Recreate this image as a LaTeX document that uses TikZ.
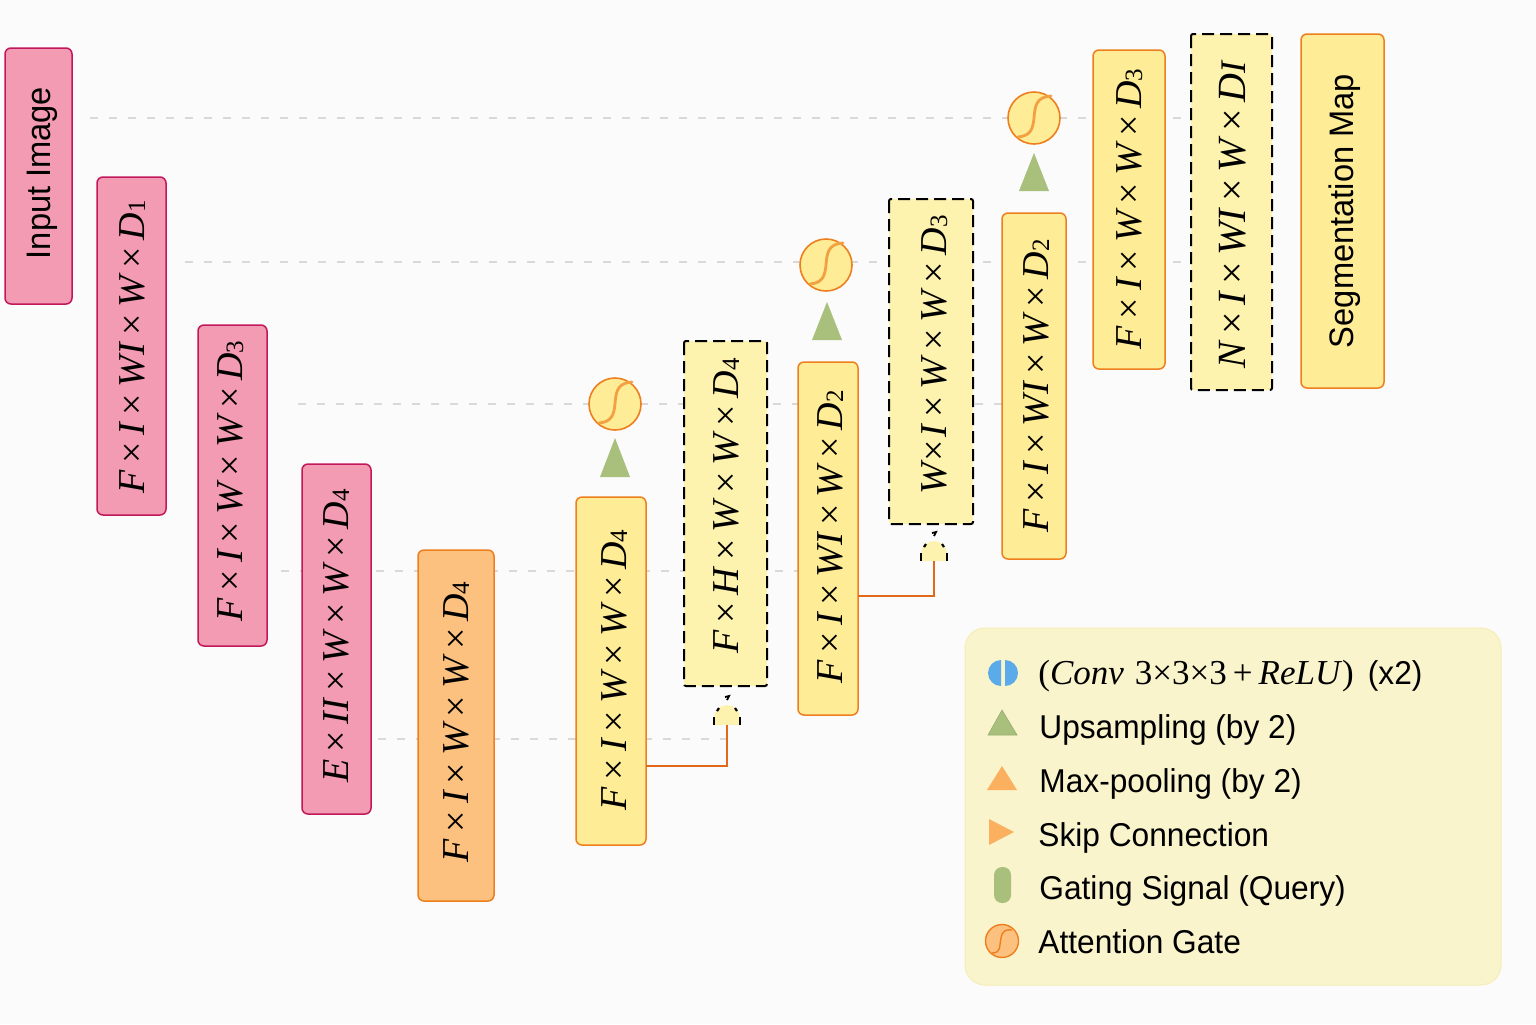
\documentclass[tikz,border=0pt]{standalone}
\usepackage{fontspec}
\setmainfont{Liberation Sans}
\newfontfamily\serifl{Liberation Serif}
\newfontfamily\sansn[FakeStretch=0.96]{Liberation Sans}
\usetikzlibrary{calc}
\definecolor{pinkF}{HTML}{F29BB2}
\definecolor{pinkD}{HTML}{C2185B}
\definecolor{orF}{HTML}{FCC07F}
\definecolor{orD}{HTML}{EE7F1E}
\definecolor{yeF}{HTML}{FFEC96}
\definecolor{yeL}{HTML}{FDF2AE}
\definecolor{legF}{HTML}{FAF4CC}
\definecolor{legD}{HTML}{F4EDB4}
\definecolor{gr}{HTML}{A8C07C}
\definecolor{triO}{HTML}{FBB05F}
\definecolor{blu}{HTML}{5BAAEA}
\definecolor{dashC}{HTML}{D9D9D9}
\definecolor{skipC}{HTML}{E2681A}
\tikzset{
 x=0.5pt,y=-0.5pt,
 blockbox/.style={rectangle,rounded corners=3pt,line width=0.75pt,inner sep=0pt},
 pinkbox/.style={blockbox,draw=pinkD,fill=pinkF},
 orangebox/.style={blockbox,draw=orD,fill=orF},
 yellowbox/.style={blockbox,draw=orD,fill=yeF},
 gatedbox/.style={rectangle,rounded corners=1pt,draw=black,fill=yeL,line width=1pt,dash pattern=on 6pt off 3pt,inner sep=0pt},
 vlabel/.style={rotate=90,anchor=base,font=\serifl\fontsize{19}{20}\selectfont,inner sep=0pt,text=black},
 sidelabel/.style={rotate=90,anchor=base,font=\sansn\fontsize{17}{20}\selectfont,inner sep=0pt,text=black},
 guide/.style={draw=dashC,line width=1.4pt,dash pattern=on 4pt off 5.5pt},
 skipline/.style={draw=skipC,line width=1pt},
 legtext/.style={anchor=base west,font=\sansn\fontsize{16.5}{20}\selectfont,inner sep=0pt,text=black},
 gatecirc/.style={circle,draw=orD,fill=yeF,line width=0.8pt,minimum size=26pt,inner sep=0pt},
 uptri/.style={fill=gr,draw=none},
}
\newcommand{\X}{\hspace{3.5pt}{\upshape ×}\hspace{3.5pt}}
\newcommand{\Y}{\hspace{1pt}{\upshape ×}\hspace{1pt}}
\newcommand{\Sb}[1]{\raisebox{-0.6pt}{\fontsize{12.5}{12}\selectfont\upshape #1}}
\newcommand{\vl}[1]{\itshape #1}
\newcommand{\bx}[6]{% name, style, x1, y1, x2, y2
 \path[#2] (#3,#4) rectangle (#5,#6);
 \coordinate (#1) at ({(#3+#5)/2},{(#4+#6)/2});}
\newcommand{\scurve}[1]{%
 \draw[orD!70!yeF,line width=1.4pt,line cap=round] ($(#1)+(-16,19)$) .. controls ($(#1)+(-3,18)$) and ($(#1)+(-1,10)$) .. ($(#1)+(0,0)$) .. controls ($(#1)+(1,-12)$) and ($(#1)+(2,-21)$) .. ($(#1)+(17,-22)$);}
\newcommand{\stub}[1]{%
 \fill[yeL] ($(#1)+(-13,0)$) -- ($(#1)+(-13,-7)$) arc[start angle=180,end angle=0,x radius=6.5pt,y radius=6.5pt] -- ($(#1)+(13,0)$) -- cycle;
 \draw[black,line width=0.9pt] ($(#1)+(-13,0)$) -- ($(#1)+(-13,-8)$) ($(#1)+(13,0)$) -- ($(#1)+(13,-8)$);
 \draw[black,line width=1.1pt] ($(#1)+(-10,-14)$) -- ($(#1)+(-8,-17)$) ($(#1)+(10,-14)$) -- ($(#1)+(8,-17)$);
 \draw[black,line width=0.9pt] ($(#1)+(-2,-28)$) -- ($(#1)+(2,-29)$) -- ($(#1)+(0,-25)$);}
\begin{document}
\begin{tikzpicture}
\useasboundingbox (0,0) rectangle (1536,1024);
\fill[white!98.5!black] (0,0) rectangle (1536,1024);
% guides
\coordinate (g1a) at (90,118); \coordinate (g1b) at (1185,118);
\coordinate (g2a) at (185,262); \coordinate (g2b) at (1185,262);
\coordinate (g3a) at (298,404); \coordinate (g3b) at (850,404);
\coordinate (g3c) at (975,404); \coordinate (g3d) at (1003,404);
\coordinate (g4a) at (281,571); \coordinate (g4b) at (800,571);
\coordinate (g5a) at (378,739); \coordinate (g5b) at (727,739);
\draw[guide] (g1a)--(g1b); \draw[guide] (g2a)--(g2b); \draw[guide] (g3a)--(g3b);
\draw[guide] (g3c)--(g3d);
\draw[guide] (g4a)--(g4b); \draw[guide] (g5a)--(g5b);
% boxes
\bx{b1}{pinkbox}{5}{48}{72}{304}
\bx{b2}{pinkbox}{97}{177}{166}{515}
\bx{b3}{pinkbox}{198}{325}{267}{646}
\bx{b4}{pinkbox}{302}{464}{371}{814}
\bx{b5}{orangebox}{418}{550}{494}{901}
\bx{b6}{yellowbox}{576}{497}{646}{845}
\bx{b7}{gatedbox}{684}{341}{767}{686}
\bx{b8}{yellowbox}{798}{362}{858}{715}
\bx{b9}{gatedbox}{889}{199}{973}{524}
\bx{b10}{yellowbox}{1002}{213}{1066}{559}
\bx{b11}{yellowbox}{1093}{50}{1165}{369}
\bx{b12}{gatedbox}{1191}{34}{1272}{390}
\bx{b13}{yellowbox}{1301}{34}{1384}{388}
% box labels
\node[sidelabel] (t1) at (50,173) {Input Image};
\node[vlabel] (t2) at (144,347) {\vl{F\X I\X WI\X W\X D\Sb{1}}};
\node[vlabel] (t3) at (242,481) {\vl{F\X I\X W\X W\X D\Sb{3}}};
\node[vlabel] (t4) at (348,636) {\vl{E\X II\X W\X W\X D\Sb{4}}};
\node[vlabel] (t5) at (468,722) {\vl{F\X I\X W\X W\X D\Sb{4}}};
\node[vlabel] (t6) at (626,670) {\vl{F\X I\X W\X W\X D\Sb{4}}};
\node[vlabel] (t7) at (738,506) {\vl{F\X H\X W\X W\X D\Sb{4}}};
\node[vlabel] (t8) at (842,537) {\vl{F\X I\X WI\X W\X D\Sb{2}}};
\node[vlabel] (t9) at (946,355) {\vl{W\Y I\X W\X W\X D\Sb{3}}};
\node[vlabel] (t10) at (1048,386) {\vl{F\X I\X WI\X W\X D\Sb{2}}};
\node[vlabel] (t11) at (1141,209) {\vl{F\X I\X W\X W\X D\Sb{3}}};
\node[vlabel,font=\serifl\fontsize{20}{21}\selectfont] (t12) at (1245,215) {\vl{N\X I\X WI\X W\X D{\fontsize{18}{18}\selectfont I}}};
\node[sidelabel] (t13) at (1353,211) {Segmentation Map};
% attention gates
\node[gatecirc] (ag1) at (615,404) {}; \scurve{ag1}
\node[gatecirc] (ag2) at (826,265) {}; \scurve{ag2}
\node[gatecirc] (ag3) at (1034,118) {}; \scurve{ag3}
% up triangles
\path[uptri] (615,438)--(630,477)--(600,477)--cycle;
\path[uptri] (827,302)--(842,340)--(812,340)--cycle;
\path[uptri] (1034,153)--(1049,191)--(1019,191)--cycle;
% small gate stubs
\coordinate (s1) at (727,725);
\coordinate (s2) at (934,561);
\stub{s1}
\stub{s2}
\draw[skipline] (646,766) -| (s1);
\draw[skipline] (858,596) -| (s2);
% legend
\path[fill=legF,draw=legD,line width=0.5pt,rounded corners=10pt] (965,628) rectangle (1501,985);
\fill[blu] (1001,660) arc[start angle=90,end angle=270,x radius=6.5pt,y radius=6.5pt]--cycle;
\fill[blu] (1005,660) arc[start angle=90,end angle=-90,x radius=6.5pt,y radius=6.5pt]--cycle;
\node[legtext] (l1) at (1038,684) {{\serifl\fontsize{17.5}{20}\selectfont (\textit{Conv}\hspace{5.5pt}3×3×3\hspace{3pt}+\hspace{3pt}\textit{ReLU})}\hspace{7pt}(x2)};
\path[fill=gr,draw=gr!90!black,line width=0.3pt] (1002,710)--(1017,735)--(988,735)--cycle;
\node[legtext] (l2) at (1039,738) {Upsampling (by 2)};
\path[fill=triO] (1002,766)--(1017,790)--(987,790)--cycle;
\node[legtext] (l3) at (1039,792) {Max-pooling (by 2)};
\path[fill=triO] (989,819)--(1014,832)--(989,845)--cycle;
\node[legtext] (l4) at (1038,846) {Skip Connection};
\path[fill=gr,rounded corners=4pt] (994,867) rectangle (1011,903);
\node[legtext] (l5) at (1039,899) {Gating Signal (Query)};
\node[circle,draw=orD,fill=orF,line width=0.7pt,minimum size=16.5pt,inner sep=0pt] (lg) at (1002,941) {};
\draw[orD,line width=0.7pt] (992,953) .. controls (1002,953) and (999,945) .. (1001,938) .. controls (1002,931) and (1006,929) .. (1012,930);
\node[legtext] (l6) at (1038,953) {Attention Gate};
\end{tikzpicture}
\end{document}
